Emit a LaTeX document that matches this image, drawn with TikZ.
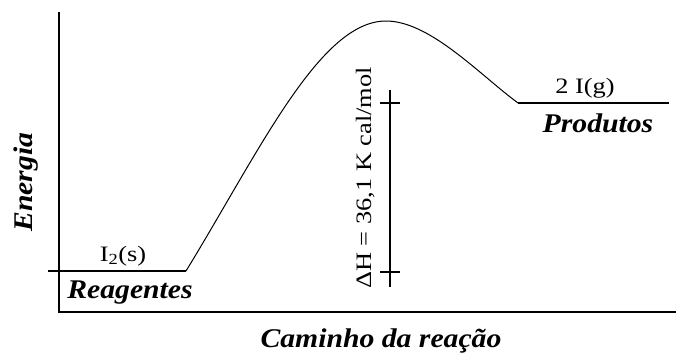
\documentclass[tikz,border=0pt]{standalone}
\usepackage{fontspec}
\setmainfont{Liberation Serif}
\newfontfamily\regfont{Liberation Serif}[FakeStretch=1.2]
\newfontfamily\labfont{Liberation Serif}[FakeStretch=1.1]
\begin{document}
\begin{tikzpicture}[x=1pt,y=-1pt,
  axis/.style={line width=2pt},
  level/.style={line width=1.3pt},
  curve/.style={line width=1pt},
  bar/.style={line width=1.5pt},
  lab/.style={inner sep=0pt,font=\fontsize{27}{30}\labfont\bfseries\itshape},
  chem/.style={inner sep=0pt,font=\fontsize{22}{25}\regfont}]
\useasboundingbox (0,0) rectangle (676,354);
% axes
\coordinate (ytop) at (59,12);
\coordinate (orig) at (59,312);
\coordinate (xend) at (676,312);
\draw[axis] (ytop) -- (orig) -- (xend);
% levels
\coordinate (rL) at (48,271);
\coordinate (rR) at (186,271);
\coordinate (peak) at (386,21);
\coordinate (pL) at (518,103);
\coordinate (pR) at (669,103);
\draw[level] (rL) -- (rR);
\draw[level] (pL) -- (pR);
\draw[curve] (rR) .. controls (260,150) and (320,21) .. (peak)
  .. controls (430,21) and (480,75) .. (pL);
% delta H bar
\coordinate (bT) at (390,90);
\coordinate (bB) at (390,287);
\coordinate (t1L) at (380,103);
\coordinate (t1R) at (400,103);
\coordinate (t2L) at (380,272);
\coordinate (t2R) at (400,272);
\draw[bar] (bT) -- (bB);
\draw[bar] (t1L) -- (t1R);
\draw[bar] (t2L) -- (t2R);
% texts
\node[chem,anchor=base] (i2s) at (123,261) {I\textsubscript{2}(s)};
\node[lab,anchor=base] (reag) at (130,298) {Reagentes};
\node[chem,anchor=base] (ig) at (585,93) {2 I(g)};
\node[lab,anchor=base] (prod) at (598,132) {Produtos};
\node[lab,anchor=base] (cam) at (381,347) {Caminho da reação};
\node[lab,anchor=base,rotate=90] (ener) at (32,182) {Energia};
\node[chem,anchor=base,rotate=90] (dh) at (371,178) {ΔH = 36,1 K cal/mol};
\end{tikzpicture}
\end{document}
